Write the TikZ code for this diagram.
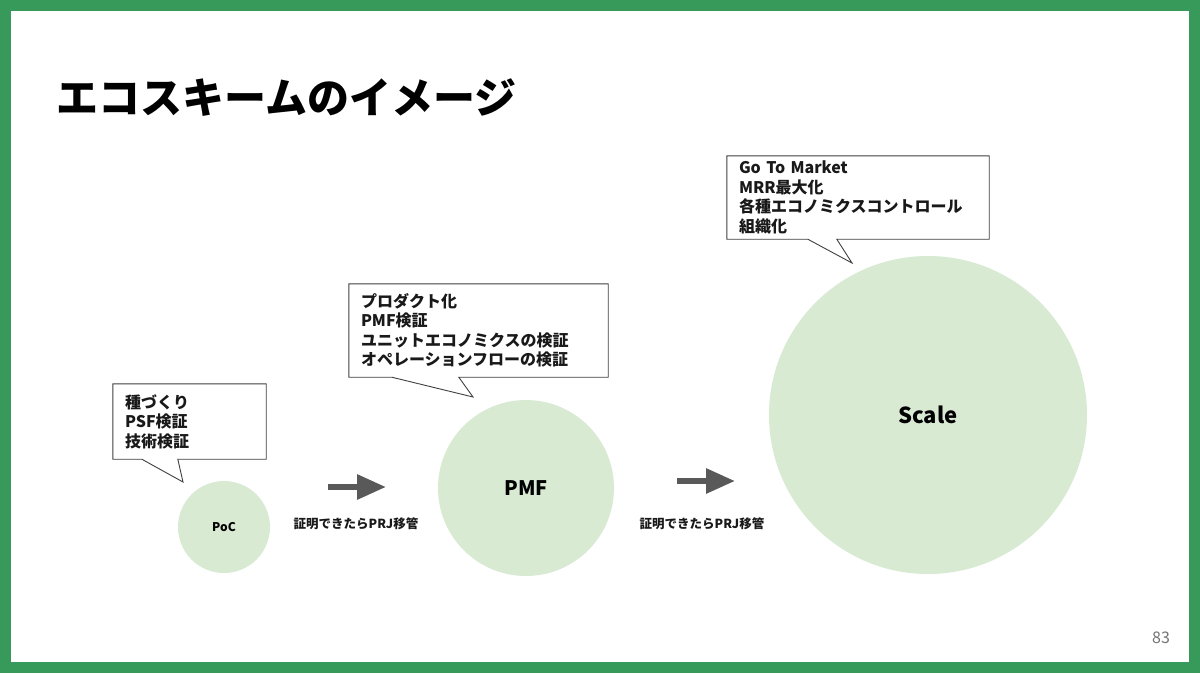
\documentclass[tikz,border=0pt]{standalone}
\usepackage{fontspec}
\setmainfont{Noto Sans CJK JP}
\usetikzlibrary{positioning,arrows.meta}

\definecolor{frame}{HTML}{389A5A}
\definecolor{stage}{HTML}{D9EAD3}
\definecolor{flow}{HTML}{595959}

\begin{document}
\begin{tikzpicture}[x=1pt,y=-1pt,
    stagecirc/.style={circle,fill=stage,inner sep=0pt,font=\bfseries},
    note/.style={draw=black!75,line width=0.9pt,line join=miter},
    notetext/.style={inner xsep=12pt,inner ysep=0pt,align=left,
        font=\fontsize{16}{19.5}\selectfont\bfseries,text=black!90},
    flowarrow/.style={draw=flow,line width=6pt,-{Triangle[length=29pt,width=24pt]}},
    flowlabel/.style={font=\fontsize{12.5}{14}\selectfont\bfseries,text=black!90}]
    % frame and page
    \fill[frame] (0,0) rectangle (1200,673);
    \fill[white] (11,11) rectangle (1189,662);
    \useasboundingbox (0,0) rectangle (1200,673);
    \node[anchor=base west,font=\fontsize{42}{42}\selectfont\bfseries] (title) at (53,113) {エコスキームのイメージ};
    \node[text=black!55,font=\fontsize{16}{16}\selectfont] (page) at (1161,638) {83};

    % stages
    \node[stagecirc,minimum size=92pt,font=\fontsize{12}{12}\selectfont\bfseries] (poc) at (224,527) {PoC};
    \node[stagecirc,minimum size=176pt,font=\fontsize{20}{20}\selectfont\bfseries] (pmf) at (526,488) {PMF};
    \node[stagecirc,minimum size=318pt,font=\fontsize{22}{22}\selectfont\bfseries] (scale) at (928,415) {Scale};

    % arrows between stages
    \coordinate (a1s) at (328,487);
    \coordinate (a1e) at (386,487);
    \coordinate (a2s) at (677,481);
    \coordinate (a2e) at (735,481);
    \draw[flowarrow] (a1s) -- (a1e);
    \draw[flowarrow] (a2s) -- (a2e);
    \node[flowlabel] (lab1) at (356,524) {証明できたらPRJ移管};
    \node[flowlabel] (lab2) at (702,524) {証明できたらPRJ移管};

    % callouts
    \node[notetext,text width=129pt,minimum height=75pt] (pocnote) at (189.5,421.5)
        {種づくり\\PSF検証\\技術検証};
    \coordinate (poctip) at (183,482);
    \draw[note] (pocnote.south west) -- ([xshift=29pt]pocnote.south west) -- (poctip)
        -- ([xshift=65pt]pocnote.south west) -- (pocnote.south east)
        -- (pocnote.north east) -- (pocnote.north west) -- cycle;
    \node[notetext,text width=235pt,minimum height=93pt] (pmfnote) at (478.5,330.5)
        {プロダクト化\\PMF検証\\ユニットエコノミクスの検証\\オペレーションフローの検証};
    \coordinate (pmftip) at (473,397);
    \draw[note] (pmfnote.south west) -- ([xshift=43pt]pmfnote.south west) -- (pmftip)
        -- ([xshift=110pt]pmfnote.south west) -- (pmfnote.south east)
        -- (pmfnote.north east) -- (pmfnote.north west) -- cycle;
    \node[notetext,text width=238pt,minimum height=83pt] (scalenote) at (858,197.5)
        {Go To Market\\MRR最大化\\各種エコノミクスコントロール\\組織化};
    \coordinate (scaletip) at (852,263);
    \draw[note] (scalenote.south west) -- ([xshift=81pt]scalenote.south west) -- (scaletip)
        -- ([xshift=110pt]scalenote.south west) -- (scalenote.south east)
        -- (scalenote.north east) -- (scalenote.north west) -- cycle;
\end{tikzpicture}
\end{document}
